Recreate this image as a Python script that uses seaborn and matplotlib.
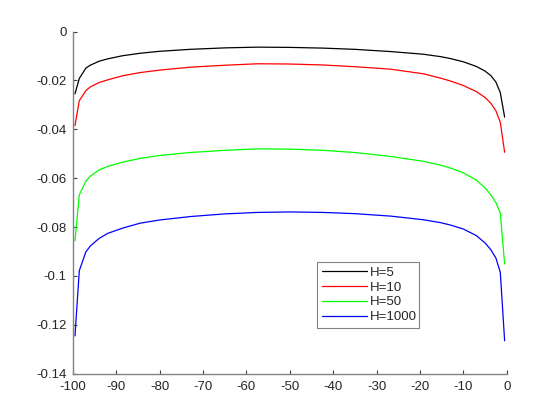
import numpy as np
import pandas as pd
import matplotlib
matplotlib.use("Agg")
import matplotlib.pyplot as plt
import seaborn as sns

# x positions (denser near the ends, where the curves bend)
x = [-99.5, -98.5, -97, -96, -94, -92, -88.5, -84.5, -80, -73, -65, -57.5, -50,
     -42.3, -35, -26.8, -19.2, -15.2, -12.9, -10, -7, -5, -3.7, -2.5, -1.5, -0.5]

h5 = [-0.0255, -0.0192, -0.0150, -0.0138, -0.0122, -0.0112, -0.0099, -0.0089, -0.0081,
      -0.0073, -0.0067, -0.0064, -0.0065, -0.0068, -0.0073, -0.0082, -0.0093, -0.0103,
      -0.0111, -0.0124, -0.0143, -0.0162, -0.0180, -0.0207, -0.0250, -0.0350]
h10 = [-0.0385, -0.0283, -0.0242, -0.0227, -0.0209, -0.0198, -0.0181, -0.0168, -0.0158,
       -0.0146, -0.0138, -0.0132, -0.0133, -0.0137, -0.0144, -0.0154, -0.0173, -0.0191,
       -0.0203, -0.0221, -0.0246, -0.0270, -0.0293, -0.0325, -0.0371, -0.0494]
h50 = [-0.0856, -0.0668, -0.0612, -0.0592, -0.0567, -0.0552, -0.0534, -0.0519, -0.0507,
       -0.0495, -0.0486, -0.0480, -0.0481, -0.0486, -0.0495, -0.0511, -0.0531, -0.0547,
       -0.0559, -0.0578, -0.0608, -0.0640, -0.0668, -0.0700, -0.0742, -0.0951]
h1000 = [-0.1245, -0.0978, -0.0902, -0.0878, -0.0847, -0.0826, -0.0804, -0.0784, -0.0771,
         -0.0757, -0.0746, -0.0740, -0.0738, -0.0740, -0.0745, -0.0755, -0.0770, -0.0782,
         -0.0792, -0.0808, -0.0835, -0.0865, -0.0892, -0.0927, -0.0985, -0.1265]

labels = ['H=5', 'H=10', 'H=50', 'H=1000']
colors = ['#000000', '#ff0000', '#00ff00', '#0000ff']

rows = []
for lab, ys in zip(labels, [h5, h10, h50, h1000]):
    for xi, yi in zip(x, ys):
        rows.append((xi, yi, lab))
df = pd.DataFrame(rows, columns=['x', 'y', 'H'])

sns.set_style("ticks")
plt.rcParams['font.family'] = ['Liberation Sans', 'DejaVu Sans']
plt.rcParams['axes.unicode_minus'] = False

fig = plt.figure(figsize=(5.6, 4.2), dpi=100)
ax = fig.add_axes([0.13, 0.11, 0.775, 0.815])
sns.lineplot(data=df, x='x', y='y', hue='H', palette=colors, hue_order=labels,
             linewidth=0.9, ax=ax, estimator=None, sort=False)

ax.set_xlim(-100, 0)
ax.set_ylim(-0.14, 0)
ax.set_xticks(range(-100, 1, 10))
ax.set_xticklabels([str(v) for v in range(-100, 1, 10)])
yt = [0, -0.02, -0.04, -0.06, -0.08, -0.1, -0.12, -0.14]
ax.set_yticks(yt)
ax.set_yticklabels(['0', '-0.02', '-0.04', '-0.06', '-0.08', '-0.1', '-0.12', '-0.14'])
ax.set_xlabel('')
ax.set_ylabel('')

sns.despine(ax=ax)
for s in ['left', 'bottom']:
    ax.spines[s].set_color('#808080')
    ax.spines[s].set_linewidth(1.0)
ax.tick_params(direction='in', length=3, width=0.8, color='#404040',
               labelsize=9.5, labelcolor='#262626')
ax.tick_params(axis='x', pad=5.5)
ax.tick_params(axis='y', pad=4.5)

leg = ax.legend(loc='lower left', bbox_to_anchor=(0.563, 0.134, 0.234, 0.188),
                mode='expand', borderaxespad=0, fontsize=9.5, handlelength=3.4,
                handletextpad=0.25, labelspacing=0.2, borderpad=0.35,
                fancybox=False, framealpha=1)
leg.get_frame().set_edgecolor('#808080')
leg.get_frame().set_linewidth(0.8)
for line in leg.get_lines():
    line.set_linewidth(0.9)

fig.savefig('out.png', dpi=100)
